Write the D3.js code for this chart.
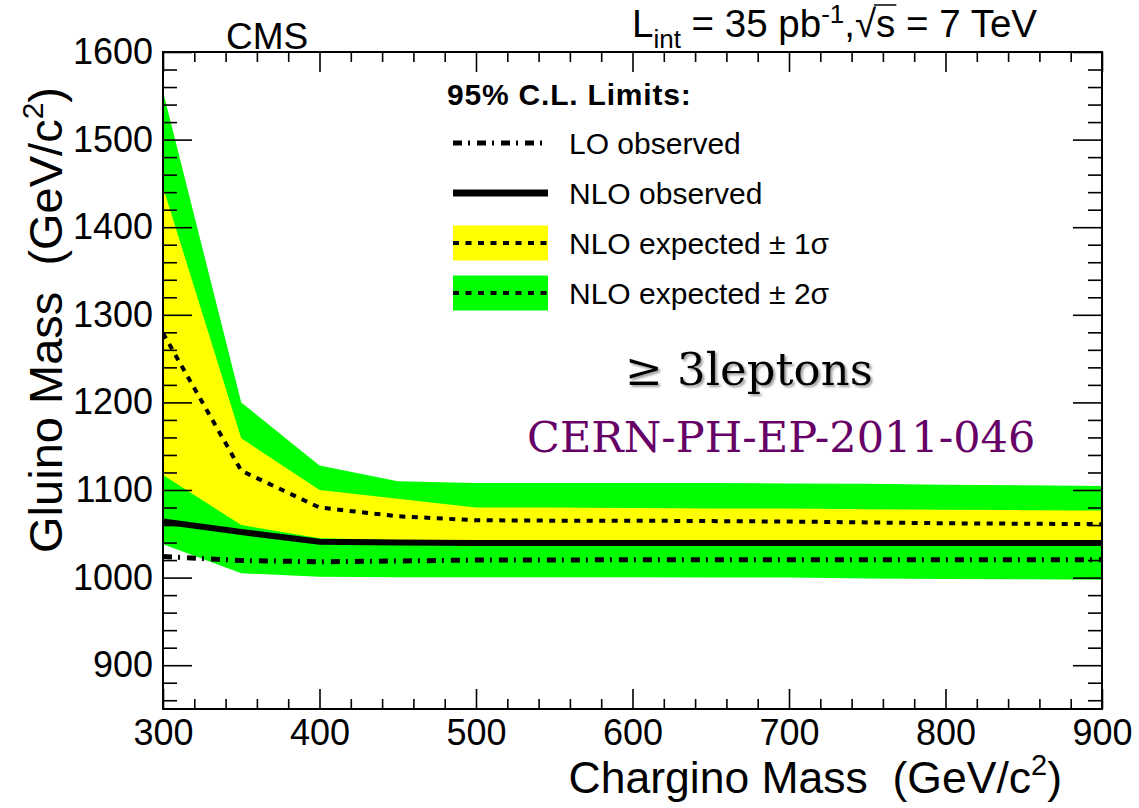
<!DOCTYPE html>
<html>
<head>
<meta charset="utf-8">
<script src="https://cdn.jsdelivr.net/npm/d3@7"></script>
<style>
  html, body { margin: 0; padding: 0; background: #fff; }
  svg { display: block; }
  text { font-family: "Liberation Sans", Arial, Helvetica, sans-serif; fill: #000; }
</style>
</head>
<body>
<svg id="chart" width="1139" height="808"></svg>
<script>
// Chargino mass grid (GeV/c^2)
const charginoMass = [300, 350, 400, 450, 500, 550, 600, 650, 700, 750, 800, 850, 900];

// Gluino mass limits (GeV/c^2)
const expectedPlus2Sigma  = [1555, 1200, 1128, 1110, 1108, 1108, 1108, 1108, 1107.5, 1107, 1106, 1105.5, 1104.5];
const expectedPlus1Sigma  = [1446, 1159, 1100, 1090, 1080, 1080, 1079.5, 1079, 1079, 1078, 1077.5, 1077, 1076.5];
const nloExpected         = [1279, 1122, 1080, 1070, 1065.5, 1065, 1065, 1064.5, 1064, 1063, 1062, 1061.5, 1061];
const expectedMinus1Sigma = [1117, 1060, 1045, 1043, 1043, 1043, 1043, 1043, 1043, 1042.5, 1042, 1042, 1042];
const expectedMinus2Sigma = [1038, 1005, 1001, 1000.5, 1000.5, 1000.5, 1000.5, 1000, 1000, 999, 998.5, 998, 997.5];
const nloObserved         = [1064, 1052, 1041, 1040, 1039.5, 1039.5, 1039.5, 1039.5, 1039.5, 1039.5, 1039.5, 1039.5, 1039.5];
const loObserved          = [1024, 1019.5, 1018, 1019, 1020, 1020, 1020.5, 1020.5, 1020.5, 1020.5, 1020.5, 1020.5, 1020.5];

// Axis ticks
const xMajorTicks = [300, 400, 500, 600, 700, 800, 900];
const xMinorTicks = d3.range(320, 900, 20).filter(v => v % 100 !== 0);
const yMajorTicks = [900, 1000, 1100, 1200, 1300, 1400, 1500, 1600];
const yMinorTicks = d3.range(860, 1600, 20).filter(v => v % 100 !== 0);

// Legend entries
const legendTitle = "95% C.L. Limits:";
const legendLabels = ["LO observed", "NLO observed", "NLO expected \u00B1 1\u03C3", "NLO expected \u00B1 2\u03C3"];

const svg = d3.select("#chart");
const W = 1139, H = 808;
const plot = { left: 163, right: 1102, top: 52, bottom: 709 };

svg.append("rect").attr("width", W).attr("height", H).attr("fill", "#fff");

const x = d3.scaleLinear().domain([300, 900]).range([plot.left, plot.right]);
const y = d3.scaleLinear().domain([850, 1600]).range([plot.bottom, plot.top]);

const defs = svg.append("defs");
defs.append("clipPath").attr("id", "plotClip")
  .append("rect")
  .attr("x", plot.left).attr("y", plot.top)
  .attr("width", plot.right - plot.left).attr("height", plot.bottom - plot.top);

const shadow = defs.append("filter").attr("id", "softShadow")
  .attr("x", "-10%").attr("y", "-20%").attr("width", "130%").attr("height", "150%");
shadow.append("feDropShadow")
  .attr("dx", 2).attr("dy", 2).attr("stdDeviation", 0.8)
  .attr("flood-color", "#888").attr("flood-opacity", 0.8);

const rows = charginoMass.map((m, i) => ({
  m,
  p2: expectedPlus2Sigma[i], p1: expectedPlus1Sigma[i], exp: nloExpected[i],
  m1: expectedMinus1Sigma[i], m2: expectedMinus2Sigma[i],
  nlo: nloObserved[i], lo: loObserved[i]
}));

const g = svg.append("g").attr("clip-path", "url(#plotClip)");

const band = (lo, hi) => d3.area().x(d => x(d.m)).y0(d => y(d[lo])).y1(d => y(d[hi]));
const curve = key => d3.line().x(d => x(d.m)).y(d => y(d[key]));

const GREEN = "#00ff00", YELLOW = "#ffff00";
const DASH_EXP = "6,6.5";
const DASH_LO = "9,6,2,7";

g.append("path").datum(rows).attr("d", band("m2", "p2")).attr("fill", GREEN);
g.append("path").datum(rows).attr("d", band("m1", "p1")).attr("fill", YELLOW);

g.append("path").datum(rows).attr("d", curve("exp"))
  .attr("fill", "none").attr("stroke", "#000").attr("stroke-width", 4)
  .attr("stroke-dasharray", DASH_EXP);
g.append("path").datum(rows).attr("d", curve("nlo"))
  .attr("fill", "none").attr("stroke", "#000").attr("stroke-width", 6);
g.append("path").datum(rows).attr("d", curve("lo"))
  .attr("fill", "none").attr("stroke", "#000").attr("stroke-width", 5)
  .attr("stroke-dasharray", DASH_LO);

// Axes: ticks pointing into the frame on all four sides
function styleAxis(sel) {
  sel.select(".domain").remove();
  sel.selectAll(".tick line").attr("stroke", "#000").attr("stroke-width", 1.6);
}
const fmt = d3.format("d");

svg.append("g").attr("transform", `translate(0,${plot.bottom})`)
  .call(d3.axisBottom(x).tickValues(xMinorTicks).tickSize(-10).tickFormat(""))
  .call(styleAxis);
const xAx = svg.append("g").attr("transform", `translate(0,${plot.bottom})`)
  .call(d3.axisBottom(x).tickValues(xMajorTicks).tickSize(-20).tickPadding(10.5).tickFormat(fmt))
  .call(styleAxis);
xAx.selectAll(".tick text").attr("font-size", 36).attr("font-family", "Liberation Sans, Arial, sans-serif").attr("fill", "#000");

svg.append("g").attr("transform", `translate(0,${plot.top})`)
  .call(d3.axisTop(x).tickValues(xMinorTicks).tickSize(-10).tickFormat(""))
  .call(styleAxis);
svg.append("g").attr("transform", `translate(0,${plot.top})`)
  .call(d3.axisTop(x).tickValues(xMajorTicks).tickSize(-20).tickFormat(""))
  .call(styleAxis);

svg.append("g").attr("transform", `translate(${plot.left},0)`)
  .call(d3.axisLeft(y).tickValues(yMinorTicks).tickSize(-14).tickFormat(""))
  .call(styleAxis);
const yAx = svg.append("g").attr("transform", `translate(${plot.left},0)`)
  .call(d3.axisLeft(y).tickValues(yMajorTicks).tickSize(-29).tickPadding(10).tickFormat(fmt))
  .call(styleAxis);
yAx.selectAll(".tick text").attr("font-size", 36).attr("font-family", "Liberation Sans, Arial, sans-serif").attr("fill", "#000");

svg.append("g").attr("transform", `translate(${plot.right},0)`)
  .call(d3.axisRight(y).tickValues(yMinorTicks).tickSize(-14).tickFormat(""))
  .call(styleAxis);
svg.append("g").attr("transform", `translate(${plot.right},0)`)
  .call(d3.axisRight(y).tickValues(yMajorTicks).tickSize(-29).tickFormat(""))
  .call(styleAxis);

// Frame
svg.append("rect")
  .attr("x", plot.left).attr("y", plot.top)
  .attr("width", plot.right - plot.left).attr("height", plot.bottom - plot.top)
  .attr("fill", "none").attr("stroke", "#000").attr("stroke-width", 2);

// Axis titles
const xTitle = svg.append("text")
  .attr("x", 1062).attr("y", 793).attr("text-anchor", "end")
  .attr("font-size", 44.5).style("white-space", "pre");
xTitle.append("tspan").text("Chargino Mass  (GeV/c");
xTitle.append("tspan").attr("font-size", 29).attr("dy", -18).text("2");
xTitle.append("tspan").attr("dy", 18).text(")");

const yTitle = svg.append("text")
  .attr("transform", "translate(62,87) rotate(-90)")
  .attr("text-anchor", "end")
  .attr("font-size", 47).style("white-space", "pre");
yTitle.append("tspan").text("Gluino Mass  (GeV/c");
yTitle.append("tspan").attr("font-size", 30).attr("dy", -19).text("2");
yTitle.append("tspan").attr("dy", 19).text(")");

// Header texts
svg.append("text").attr("x", 226).attr("y", 49).attr("font-size", 37).text("CMS");

// Luminosity and energy label, laid out piece by piece
(function () {
  const base = 37;
  let cx = 632;
  const parts = [
    { t: "L", size: 38.5, dy: 0 },
    { t: "int", size: 26, dy: 11 },
    { t: " = 35 pb", size: 38.5, dy: 0 },
    { t: "-1", size: 26, dy: -14 },
    { t: ",", size: 38.5, dy: 0 },
    { t: "\u221A", size: 38.5, dy: 0, root: true },
    { t: "s", size: 38.5, dy: 0, over: true },
    { t: " = 7 TeV", size: 38.5, dy: 0 }
  ];
  let rootStart = null;
  parts.forEach(p => {
    const t = svg.append("text").attr("x", cx).attr("y", base + p.dy)
      .attr("font-size", p.size).style("white-space", "pre").text(p.t);
    const w = t.node().getComputedTextLength();
    if (p.root) rootStart = cx + w - 2;
    if (p.over) {
      svg.append("line")
        .attr("x1", rootStart).attr("x2", cx + w + 1)
        .attr("y1", base - 32).attr("y2", base - 32)
        .attr("stroke", "#000").attr("stroke-width", 1.5);
    }
    cx += w;
  });
})();

// Legend
svg.append("text").attr("x", 447).attr("y", 105)
  .attr("font-size", 30).attr("font-weight", "bold")
  .style("letter-spacing", "0.8px").text(legendTitle);

const legX0 = 453, legX1 = 548, legTextX = 569;
const legRowY = [143, 193, 243, 293];
const leg = svg.append("g");

// LO observed
leg.append("line").attr("x1", legX0).attr("x2", legX1).attr("y1", legRowY[0]).attr("y2", legRowY[0])
  .attr("stroke", "#000").attr("stroke-width", 5).attr("stroke-dasharray", DASH_LO);
// NLO observed
leg.append("line").attr("x1", legX0).attr("x2", legX1).attr("y1", legRowY[1]).attr("y2", legRowY[1])
  .attr("stroke", "#000").attr("stroke-width", 7);
// Expected +/- 1 sigma
leg.append("rect").attr("x", legX0).attr("y", legRowY[2] - 17.5).attr("width", legX1 - legX0).attr("height", 35)
  .attr("fill", YELLOW);
leg.append("line").attr("x1", legX0).attr("x2", legX1).attr("y1", legRowY[2]).attr("y2", legRowY[2])
  .attr("stroke", "#000").attr("stroke-width", 4).attr("stroke-dasharray", DASH_EXP);
// Expected +/- 2 sigma
leg.append("rect").attr("x", legX0).attr("y", legRowY[3] - 17.5).attr("width", legX1 - legX0).attr("height", 35)
  .attr("fill", GREEN);
leg.append("line").attr("x1", legX0).attr("x2", legX1).attr("y1", legRowY[3]).attr("y2", legRowY[3])
  .attr("stroke", "#000").attr("stroke-width", 4).attr("stroke-dasharray", DASH_EXP);

legendLabels.forEach((lab, i) => {
  leg.append("text").attr("x", legTextX).attr("y", legRowY[i] + 10.5)
    .attr("font-size", 30).text(lab);
});

// Channel and reference labels
svg.append("text").attr("x", 625).attr("y", 385)
  .attr("font-size", 45).style("font-family", "'DejaVu Serif', serif")
  .attr("filter", "url(#softShadow)").text("\u2265 3leptons");
svg.append("text").attr("x", 527).attr("y", 452)
  .attr("font-size", 43).style("font-family", "'DejaVu Serif', serif")
  .style("fill", "#660066").text("CERN-PH-EP-2011-046");
</script>
</body>
</html>
